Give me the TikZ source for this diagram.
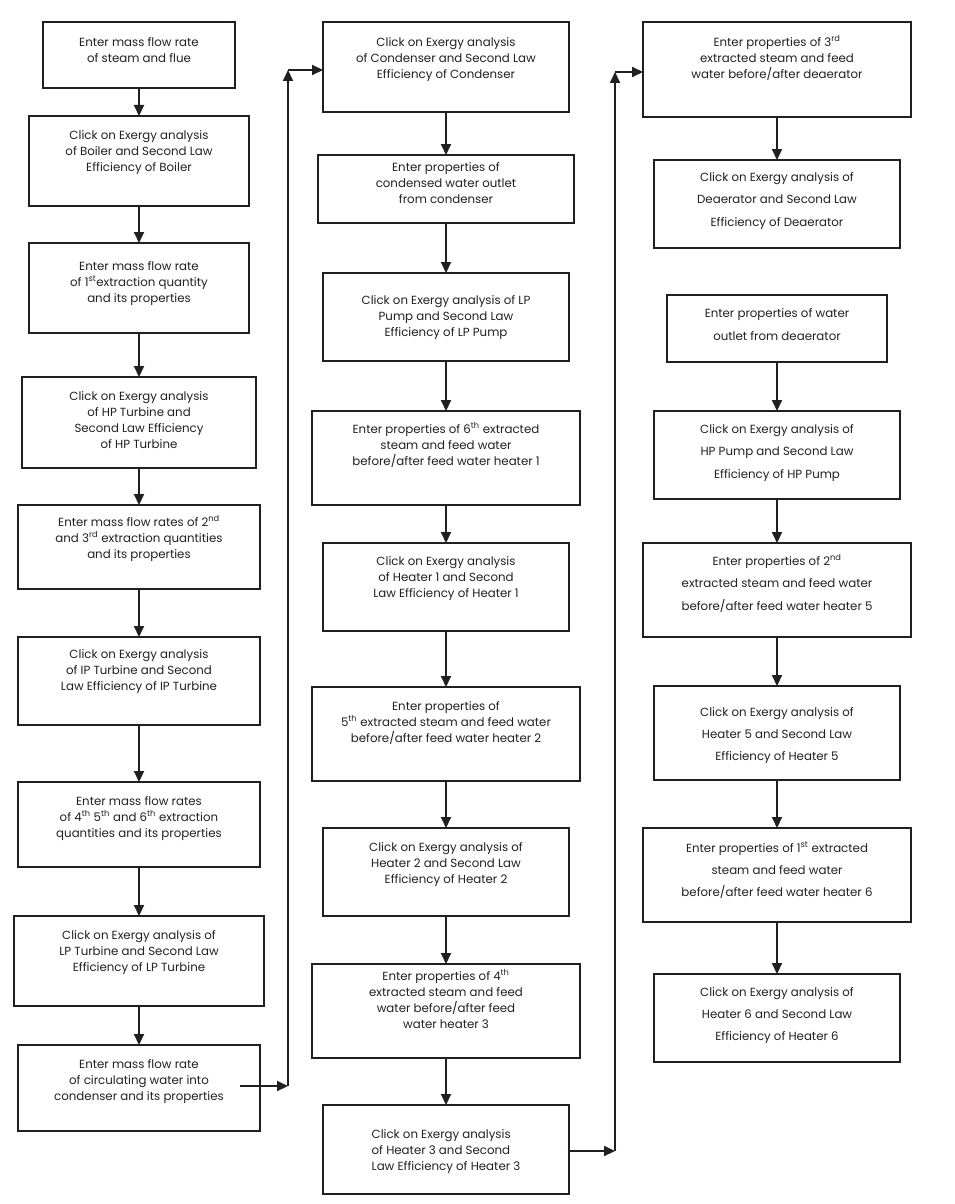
\documentclass[tikz,border=0pt]{standalone}
\usepackage{fontspec}
\setmainfont{Poppins}
\usetikzlibrary{arrows.meta}
\definecolor{ink}{RGB}{35,31,32}
\tikzset{
  box/.style={draw=ink, line width=2pt, outer sep=0pt, inner sep=0pt, anchor=north west},
  txt/.style={inner sep=0pt, anchor=north, align=center, text=ink},
  arr/.style={draw=ink, line width=2pt, -{Triangle[length=11pt,width=10pt]}},
}
% name, x1, y1, x2, y2, first-line y, baselineskip, extra options, text
\newcommand\bx[9]{%
  \node[box, minimum width={(#4-#2)*1pt}, minimum height={(#5-#3)*1pt}] (#1) at (#2,#3) {};
  \node[txt, font=\fontsize{11.8}{#7}\selectfont, #8] (#1t) at ({(#2+#4)/2},{#6-9}) {\rule{0pt}{12pt}#9};
}
\begin{document}
\begin{tikzpicture}[x=1pt, y=-1pt]
\useasboundingbox (0,0) rectangle (954,1204);
% column 1
\bx{a1}{43}{22}{235}{88}{43}{16}{}{Enter mass flow rate\\of steam and flue}
\bx{a2}{29}{116}{249}{206}{136}{16}{}{Click on Exergy analysis\\of Boiler and Second Law\\Efficiency of Boiler}
\bx{a3}{29}{243}{249}{333}{267}{16}{}{Enter mass flow rate\\of 1\textsuperscript{st}extraction quantity\\and its properties}
\bx{a4}{22}{377}{256}{468}{397}{16}{}{Click on Exergy analysis\\of HP Turbine and\\Second Law Efficiency\\of HP Turbine}
\bx{a5}{18}{505}{260}{589}{523}{16}{}{Enter mass flow rates of 2\textsuperscript{nd}\\and 3\textsuperscript{rd} extraction quantities\\and its properties}
\bx{a6}{18}{637}{260}{725}{655}{16}{}{Click on Exergy analysis\\of IP Turbine and Second\\Law Efficiency of IP Turbine}
\bx{a7}{18}{782}{260}{867}{802}{16}{}{Enter mass flow rates\\of 4\textsuperscript{th} 5\textsuperscript{th} and 6\textsuperscript{th} extraction\\quantities and its properties}
\bx{a8}{14}{916}{264}{1006}{936}{16}{}{Click on Exergy analysis of\\LP Turbine and Second Law\\Efficiency of LP Turbine}
\bx{a9}{18}{1045}{260}{1131}{1065}{16}{}{Enter mass flow rate\\of circulating water into\\condenser and its properties}
% column 2
\bx{b1}{323}{22}{569}{112}{43}{16}{}{Click on Exergy analysis\\of Condenser and Second Law\\Efficiency of Condenser}
\bx{b2}{318}{155}{574}{223}{168}{16}{}{Enter properties of\\condensed water outlet\\from condenser}
\bx{b3}{323}{273}{569}{361}{301}{16}{}{Click on Exergy analysis of LP\\Pump and Second Law\\Efficiency of LP Pump}
\bx{b4}{312}{411}{580}{505}{430}{16}{}{Enter properties of 6\textsuperscript{th} extracted\\steam and feed water\\before/after feed water heater 1}
\bx{b5}{323}{543}{569}{631}{562}{16}{}{Click on Exergy analysis\\of Heater 1 and Second\\Law Efficiency of Heater 1}
\bx{b6}{312}{687}{580}{781}{707}{16}{}{Enter properties of\\5\textsuperscript{th} extracted steam and feed water\\before/after feed water heater 2}
\bx{b7}{323}{828}{569}{916}{848}{16}{}{Click on Exergy analysis of\\Heater 2 and Second Law\\Efficiency of Heater 2}
\bx{b8}{312}{964}{580}{1058}{977}{16}{}{Enter properties of 4\textsuperscript{th}\\extracted steam and feed\\water before/after feed\\water heater 3}
\bx{b9}{323}{1105}{569}{1194}{1135}{16}{align=left}{Click on Exergy analysis\\of Heater 3 and Second\\Law Efficiency of Heater 3}
% column 3
\bx{c1}{643}{22}{911}{117}{43}{16}{}{Enter properties of 3\textsuperscript{rd}\\extracted steam and feed\\water before/after deaerator}
\bx{c2}{654}{160}{900}{248}{178}{22.5}{}{Click on Exergy analysis of\\Deaerator and Second Law\\Efficiency of Deaerator}
\bx{c3}{667}{295}{887}{362}{314}{23}{}{Enter properties of water\\outlet from deaerator}
\bx{c4}{654}{411}{900}{499}{430}{22.5}{}{Click on Exergy analysis of\\HP Pump and Second Law\\Efficiency of HP Pump}
\bx{c5}{643}{543}{911}{637}{562}{22.5}{}{Enter properties of 2\textsuperscript{nd}\\extracted steam and feed water\\before/after feed water heater 5}
\bx{c6}{654}{686}{900}{780}{713}{22}{}{Click on Exergy analysis of\\Heater 5 and Second Law\\Efficiency of Heater 5}
\bx{c7}{643}{828}{911}{922}{849}{22}{}{Enter properties of 1\textsuperscript{st} extracted\\steam and feed water\\before/after feed water heater 6}
\bx{c8}{654}{974}{900}{1062}{993}{22}{}{Click on Exergy analysis of\\Heater 6 and Second Law\\Efficiency of Heater 6}
% vertical arrows
\foreach \u/\v in {a1/a2,a2/a3,a3/a4,a4/a5,a5/a6,a6/a7,a7/a8,a8/a9,
                   b1/b2,b2/b3,b3/b4,b4/b5,b5/b6,b6/b7,b7/b8,b8/b9,
                   c1/c2,c3/c4,c4/c5,c5/c6,c6/c7,c7/c8}
  \draw[arr] (\u.south) -- (\u.south |- \v.north);
% column links
\coordinate (k1) at (288,70);
\coordinate (k1b) at (288,1086);
\draw[arr] ([xshift=-20pt]a9.east |- k1b) -- (k1b);
\draw[arr] (k1b) -- (k1);
\draw[arr] (k1) -- (k1 -| b1.west);
\coordinate (k2) at (615,72);
\coordinate (k2b) at (615,1151);
\draw[arr] (b9.east |- k2b) -- (k2b);
\draw[arr] (k2b) -- (k2);
\draw[arr] (k2) -- (k2 -| c1.west);
\end{tikzpicture}
\end{document}
